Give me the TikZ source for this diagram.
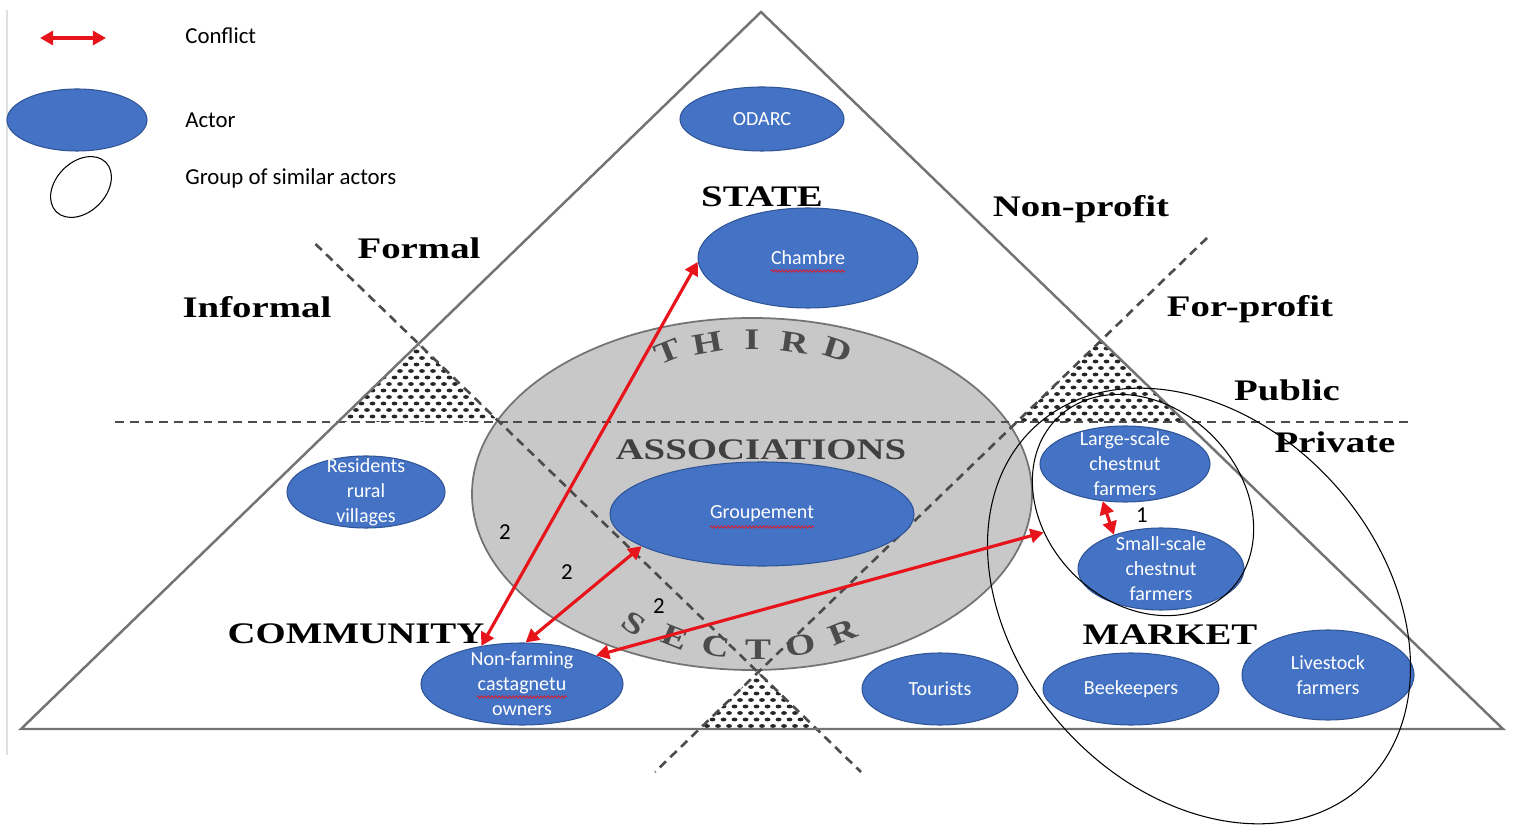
\documentclass[tikz,border=0pt]{standalone}
\usepackage{fontspec}
\setmainfont{Carlito}
\newfontfamily\trifont[FakeStretch=1.3]{Liberation Serif}
\usetikzlibrary{shapes,arrows.meta,positioning,calc,decorations.pathmorphing}

\definecolor{actorblue}{HTML}{4472C4}
\definecolor{actoredge}{HTML}{2F5597}
\definecolor{conflictred}{HTML}{E8141B}
\definecolor{sectorgray}{HTML}{C8C8C8}

\tikzset{
  actor/.style={ellipse, fill=actorblue, draw=actoredge, line width=0.6pt, inner sep=0pt},
  esize/.style 2 args={minimum width=#1*0.02cm, minimum height=#2*0.02cm},
  actortxt/.style={text=white, align=center, inner sep=0pt, font=\fontsize{11.4}{14.2}\selectfont},
  grouping/.style={ellipse, draw=black, line width=0.6pt, inner sep=0pt},
  conflict/.style={draw=conflictred, line width=1.8pt, <->, >={Triangle[length=7.5pt,width=8pt]}},
  sectorlbl/.style={anchor=base, inner sep=0pt, font=\trifont\bfseries\fontsize{17}{20}\selectfont},
  arcletter/.style={inner sep=0pt, text=black!70, font=\trifont\bfseries\fontsize{17}{20}\selectfont},
  divider/.style={black!70, line width=1.5pt, dash pattern=on 5pt off 3.4pt},
  legendtxt/.style={anchor=base west, inner sep=0pt, font=\fontsize{13}{15}\selectfont},
  conflictnum/.style={inner sep=0pt, font=\fontsize{13}{15}\selectfont},
  squiggle/.style={conflictred, line width=0.4pt, decorate, decoration={zigzag, segment length=2pt, amplitude=0.7pt}},
}

% dotted screen in the corners of the middle triangle
\newcommand{\dotfield}[3]{%
  \begin{scope}
    \clip #1;
    \foreach \r in {0,...,12}
      \foreach \c in {0,...,16}
        \fill[black!85] ({#2+\c*11+mod(\r,2)*5.5},{#3+\r*6.5}) ellipse [x radius=2.9, y radius=1.9];
  \end{scope}}

\begin{document}
\begin{tikzpicture}[x=0.02cm, y=-0.02cm]
    \useasboundingbox (0,0) rectangle (1514,830);
    \draw[black!12, line width=0.6pt] (7,10) -- (7,755);

    % third sector
    \filldraw[fill=sectorgray, draw=black!55, line width=1pt] (752,494) ellipse [x radius=280, y radius=176];

    \dotfield{(418,343.5) -- (337,422) -- (499.5,422) -- cycle}{334}{345}
    \dotfield{(1100.7,340.5) -- (1016.5,422) -- (1185,422) -- cycle}{1013}{342}
    \dotfield{(758,672) -- (699,729) -- (817,729) -- cycle}{696}{674}

    \draw[divider] (115,422) -- (1410,422);
    \draw[divider] (315.5,244) -- (861,772);
    \draw[divider] (1207,238) -- (655,772);

    \draw[black!55, line width=1.4pt] (761,12) -- (1503,729) -- (21,729) -- cycle;

    \node[sectorlbl] (state) at (762,207) {STATE};
    \node[sectorlbl] (formal) at (419,259) {Formal};
    \node[sectorlbl] (informal) at (257,318) {Informal};
    \node[sectorlbl] (nonprofit) at (1081,217) {Non-profit};
    \node[sectorlbl] (forprofit) at (1250,317) {For-profit};
    \node[sectorlbl] (public) at (1287,401) {Public};
    \node[sectorlbl] (private) at (1335,453) {Private};
    \node[sectorlbl, text=black!75] (assoc) at (761,460) {ASSOCIATIONS};
    \node[sectorlbl] (community) at (356,643) {COMMUNITY};
    \node[sectorlbl] (market) at (1170,644) {MARKET};

    \foreach \ch/\x/\y/\r [count=\i] in {T/668/352/22, H/708/343/10, I/752/340/0, R/795/343/-8, D/838/350/-18}
        \node[arcletter, rotate=\r] (third\i) at (\x,\y) {\ch};
    \foreach \ch/\x/\y/\r [count=\i] in {S/634/624/-35, E/675/637/-22, C/716/646/-10, T/758/650/0, O/801/645/10, R/843/632/22}
        \node[arcletter, rotate=\r] (sector\i) at (\x,\y) {\ch};

    % actors
    \node[actor, esize={164}{64}, label={[actortxt]center:ODARC}] (odarc) at (762,119) {};
    \node[actor, esize={220}{100}, label={[actortxt]center:Chambre}] (chambre) at (808,258) {};
    \node[actor, esize={304}{104}, label={[actortxt]center:Groupement}] (groupement) at (762,514) {};
    \node[actor, esize={158}{72}, label={[actortxt]center:{Residents\\rural\\villages}}] (residents) at (366,492) {};
    \node[actor, esize={202}{82}, label={[actortxt]center:{Non-farming\\castagnetu\\owners}}] (nonfarming) at (522,684) {};
    \node[actor, esize={156}{72}, label={[actortxt]center:Tourists}] (tourists) at (940,689) {};
    \node[actor, esize={176}{72}, label={[actortxt]center:Beekeepers}] (beekeepers) at (1131,689) {};
    \node[actor, esize={172}{90}, label={[actortxt]center:{Livestock\\farmers}}] (livestock) at (1328,675) {};
    \node[actor, esize={170}{76}, label={[actortxt]center:{Large-scale\\chestnut\\farmers}}] (largescale) at (1125,464) {};
    \node[actor, esize={166}{82}, label={[actortxt]center:{Small-scale\\chestnut\\farmers}}] (smallscale) at (1161,569) {};

    \draw[squiggle] ($(chambre)+(-37,13)$) -- ++(74,0);
    \draw[squiggle] ($(groupement)+(-52,13)$) -- ++(104,0);
    \draw[squiggle] ($(nonfarming)+(-45,13)$) -- ++(90,0);

    % groups
    \node[grouping, esize={244}{196}, rotate=-45] (chestnutgrp) at (1143,505) {};
    \node[grouping, esize={486}{364}, rotate=-48] (farmgrp) at (1199,606) {};

    % conflicts
    \draw[conflict] (nonfarming.137) -- (chambre.182);
    \draw[conflict] (nonfarming.85) -- (groupement.195);
    \draw[conflict] (nonfarming.21) -- (chestnutgrp);
    \draw[conflict] (largescale.239) -- (smallscale.144);

    \node[conflictnum] (num1) at (505,532) {2};
    \node[conflictnum] (num2) at (567,572) {2};
    \node[conflictnum] (num3) at (659,606) {2};
    \node[conflictnum] (num4) at (1142,515) {1};

    % legend
    \coordinate (lega) at (40,38);
    \coordinate (legb) at (106,38);
    \draw[conflict] (lega) -- (legb);
    \node[actor, esize={140}{62}] (legactor) at (77,120) {};
    \node[grouping, esize={70}{50}, rotate=45] (leggroup) at (81,187) {};
    \node[legendtxt] (legconflict) at (185,44) {Conflict};
    \node[legendtxt] (legactortxt) at (185,128) {Actor};
    \node[legendtxt] (leggrouptxt) at (185,185) {Group of similar actors};
\end{tikzpicture}
\end{document}
